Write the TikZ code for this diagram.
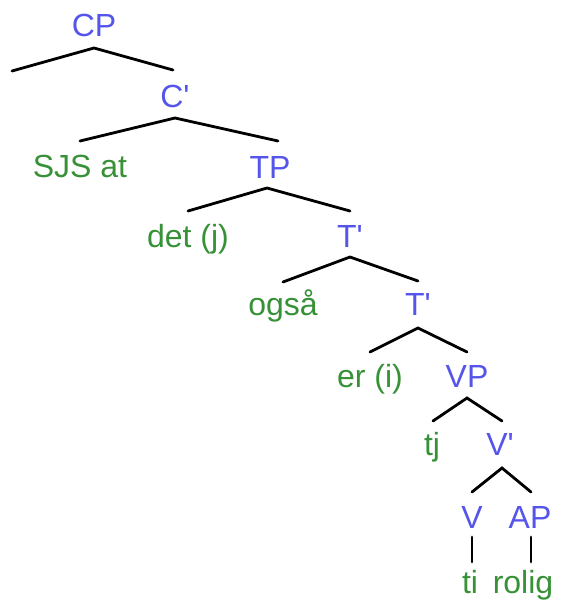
\documentclass[tikz,border=0pt]{standalone}
\usepackage{fontspec}
\setmainfont{Liberation Sans}
\definecolor{catblue}{RGB}{85,85,235}
\definecolor{wordgreen}{RGB}{55,145,55}
\begin{document}
\begin{tikzpicture}[x=1pt,y=-1pt,
  cat/.style={text=catblue,anchor=base,inner sep=0pt,font=\fontsize{32}{32}\selectfont},
  word/.style={text=wordgreen,anchor=base,inner sep=0pt,font=\fontsize{32}{32}\selectfont},
  branch/.style={draw=black,line width=2.8pt,line cap=round}]
\useasboundingbox (0,0) rectangle (562,603);
% labels
\node[cat]  (CP)  at (94,36)  {CP};
\node[cat]  (C1)  at (175,107) {C\textquotesingle};
\node[word] (SJS) at (80,177) {SJS at};
\node[cat]  (TP)  at (270,178) {TP};
\node[word] (det) at (188,247) {det (j)};
\node[cat]  (T1)  at (350,247) {T\textquotesingle};
\node[word] (ogs) at (283,315) {også};
\node[cat]  (T2)  at (418,315) {T\textquotesingle};
\node[word] (er)  at (370,387) {er (i)};
\node[cat]  (VP)  at (467,387) {VP};
\node[word] (tj)  at (432,455) {tj};
\node[cat]  (V1)  at (500,455) {V\textquotesingle};
\node[cat]  (V)   at (472,528) {V};
\node[cat]  (AP)  at (530,528) {AP};
\node[word] (ti)  at (470,593) {ti};
\node[word] (rol) at (523,593) {rolig};
% branch points
\coordinate (aCP) at (94,48);   \coordinate (lCP) at (12,71);  \coordinate (rCP) at (173,70);
\coordinate (aC1) at (175,118); \coordinate (lC1) at (80,141); \coordinate (rC1) at (278,141);
\coordinate (aTP) at (267,188); \coordinate (lTP) at (188,211); \coordinate (rTP) at (350,211);
\coordinate (aT1) at (350,257); \coordinate (lT1) at (283,282); \coordinate (rT1) at (418,281);
\coordinate (aT2) at (418,328); \coordinate (lT2) at (370,352); \coordinate (rT2) at (467,352);
\coordinate (aVP) at (467,398); \coordinate (lVP) at (433,421); \coordinate (rVP) at (502,421);
\coordinate (aV1) at (502,468); \coordinate (lV1) at (472,492); \coordinate (rV1) at (531,492);
\coordinate (tV)  at (472,537); \coordinate (bV)  at (472,562);
\coordinate (tAP) at (531,537); \coordinate (bAP) at (531,562);
% branches
\draw[branch] (lCP) -- (aCP) -- (rCP);
\draw[branch] (lC1) -- (aC1) -- (rC1);
\draw[branch] (lTP) -- (aTP) -- (rTP);
\draw[branch] (lT1) -- (aT1) -- (rT1);
\draw[branch] (lT2) -- (aT2) -- (rT2);
\draw[branch] (lVP) -- (aVP) -- (rVP);
\draw[branch] (lV1) -- (aV1) -- (rV1);
\draw[branch] (tV) -- (bV);
\draw[branch] (tAP) -- (bAP);
\end{tikzpicture}
\end{document}
